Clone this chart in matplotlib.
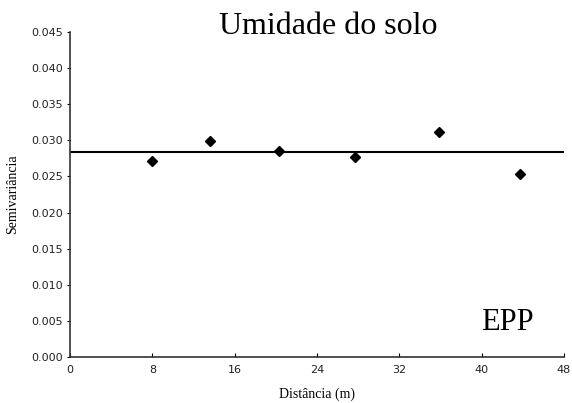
import numpy as np
import matplotlib.pyplot as plt

# semivariograma experimental - umidade do solo
distancia = [8.0, 13.6, 20.3, 27.7, 35.9, 43.7]
semivariancia = [0.0272, 0.0299, 0.0285, 0.0277, 0.0312, 0.0254]
patamar = 0.02834  # efeito pepita puro (EPP)

x_ticks = [0, 8, 16, 24, 32, 40, 48]
y_ticks = [0.000, 0.005, 0.010, 0.015, 0.020, 0.025, 0.030, 0.035, 0.040, 0.045]

fig = plt.figure(figsize=(5.72, 4.03), dpi=100)
ax = fig.add_axes([0.1224, 0.1141, 0.8636, 0.8065])

ax.axhline(patamar, color='black', linewidth=1.5, xmin=0, xmax=0.998)
ax.plot(distancia, semivariancia, linestyle='none', marker='D',
        markersize=5.5, color='black')

ax.set_xlim(0, 48)
ax.set_ylim(0, 0.045)
ax.set_xticks(x_ticks)
ax.set_yticks(y_ticks)
ax.set_yticklabels([f'{v:.3f}' for v in y_ticks])

for s in ['top', 'right']:
    ax.spines[s].set_visible(False)
for s in ['left', 'bottom']:
    ax.spines[s].set_linewidth(1.2)
    ax.spines[s].set_color('#333333')

ax.tick_params(axis='x', direction='in', length=3, labelsize=8, pad=6,
               labelfontfamily='DejaVu Sans', labelcolor='#222222')
ax.tick_params(axis='y', direction='out', length=2, labelsize=8, pad=3,
               labelfontfamily='DejaVu Sans', labelcolor='#222222')

ax.set_xlabel('Distância (m)', fontsize=10, family='Liberation Serif', labelpad=9)
ax.set_ylabel('Semivariância', fontsize=10, family='Liberation Serif', labelpad=9)

fig.text(0.574, 0.9156, 'Umidade do solo', ha='center', va='baseline',
         fontsize=23, family='Liberation Serif')
ax.text(42.5, 0.00374, 'EPP', ha='center', va='baseline',
        fontsize=22, family='Liberation Serif')

fig.savefig('out.png', dpi=100)
